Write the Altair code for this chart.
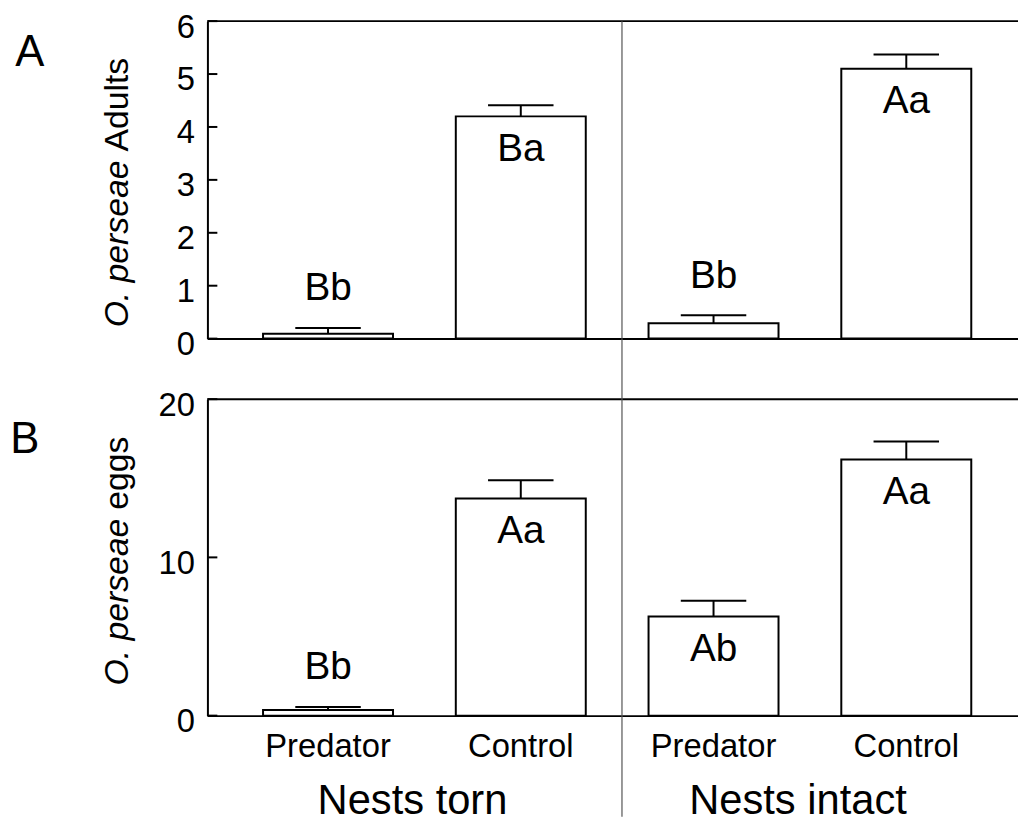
import altair as alt
import pandas as pd

# ---- data ----
groups = ["Nests torn", "Nests torn", "Nests intact", "Nests intact"]
treatments = ["Predator", "Control", "Predator", "Control"]
positions = [1, 2, 3, 4]

adults_mean = [0.09, 4.20, 0.29, 5.10]
adults_se = [0.11, 0.21, 0.15, 0.27]
adults_letters = ["Bb", "Ba", "Bb", "Aa"]
adults_place = ["above", "inside", "above", "inside"]
adults_ticks = [0, 1, 2, 3, 4, 5, 6]

eggs_mean = [0.36, 13.72, 6.26, 16.19]
eggs_se = [0.19, 1.15, 1.00, 1.13]
eggs_letters = ["Bb", "Aa", "Ab", "Aa"]
eggs_place = ["above", "inside", "inside", "inside"]
eggs_ticks = [0, 10, 20]

W = 818
FONT = "Liberation Sans"
X_DOMAIN = [0.4, 4.559]
DIVIDER = 2.525


def panel(mean, se, letters, place, ticks, title_it, title_rest, panel_label,
          h, label_x, label_y, title_y, div_y0, div_y1, bottom):
    df = pd.DataFrame({"pos": positions, "group": groups, "treatment": treatments,
                       "mean": mean, "se": se, "letter": letters, "place": place})
    base = alt.Chart(df).transform_calculate(top="datum.mean + datum.se")
    xs = alt.Scale(domain=X_DOMAIN, nice=False, zero=False)
    ys = alt.Scale(domain=[ticks[0], ticks[-1]], nice=False)

    bars = base.mark_bar(size=131, fill="white", stroke="black", strokeWidth=2).encode(
        x=alt.X("pos:Q", scale=xs, title=None,
                axis=alt.Axis(labels=False, ticks=False, grid=False,
                              domainColor="black", domainWidth=2)),
        y=alt.Y("mean:Q", scale=ys, title=None,
                axis=alt.Axis(values=ticks, ticks=False, grid=False, labelPadding=13,
                              labelFontSize=33, labelBaseline="top", labelOffset=-10,
                              domainColor="black", domainWidth=2)),
    )
    stems = base.mark_rule(color="black", strokeWidth=2).encode(
        x=alt.X("pos:Q", title=None), y=alt.Y("mean:Q", title=None), y2="top:Q")
    caps = base.mark_tick(orient="horizontal", size=66, thickness=2, color="black",
                          opacity=1).encode(
        x=alt.X("pos:Q", title=None), y=alt.Y("top:Q", title=None))
    inside = base.transform_filter("datum.place == 'inside'").mark_text(
        dy=33, baseline="middle", fontSize=39).encode(
        x=alt.X("pos:Q", title=None), y=alt.Y("mean:Q", title=None), text="letter:N")
    above = base.transform_filter("datum.place == 'above'").mark_text(
        dy=-40, baseline="middle", fontSize=39).encode(
        x=alt.X("pos:Q", title=None), y=alt.Y("top:Q", title=None), text="letter:N")

    tick_df = pd.DataFrame({"v": ticks})
    inticks = alt.Chart(tick_df).mark_rule(color="black", strokeWidth=2).encode(
        y=alt.Y("v:Q", title=None), x=alt.value(0), x2=alt.value(10))

    tdf = pd.DataFrame({"it": [title_it], "rest": [title_rest], "panel": [panel_label]})
    t_it = alt.Chart(tdf).mark_text(angle=270, align="right", baseline="alphabetic",
                                    fontSize=34, fontStyle="italic").encode(
        x=alt.value(-80), y=alt.value(title_y), text="it:N")
    t_rest = alt.Chart(tdf).mark_text(angle=270, align="left", baseline="alphabetic",
                                      fontSize=34, dx=9).encode(
        x=alt.value(-80), y=alt.value(title_y), text="rest:N")
    plab = alt.Chart(tdf).mark_text(fontSize=44, align="center", baseline="alphabetic").encode(
        x=alt.value(label_x), y=alt.value(label_y), text="panel:N")
    topline = alt.Chart(tdf).mark_rule(color="black", strokeWidth=2).encode(
        x=alt.value(0), x2=alt.value(W), y=alt.value(0))
    divider = alt.Chart(tdf).mark_rule(color="#555555", strokeWidth=1.2).encode(
        x=alt.datum(DIVIDER), y=alt.value(div_y0), y2=alt.value(div_y1))

    layers = [bars, stems, caps, inside, above, inticks, topline, divider, t_it, t_rest, plab]
    if bottom:
        cats = base.mark_text(fontSize=33, baseline="alphabetic").encode(
            x=alt.X("pos:Q", title=None), y=alt.value(h + 42), text="treatment:N")
        grp = base.transform_aggregate(pos="mean(pos)", groupby=["group"]).mark_text(
            fontSize=42, baseline="alphabetic", dx=-12).encode(
            x=alt.X("pos:Q", title=None), y=alt.value(h + 99), text="group:N")
        layers += [cats, grp]
    return alt.layer(*layers).properties(width=W, height=h)


top = panel(adults_mean, adults_se, adults_letters, adults_place, adults_ticks,
            "O. perseae", "Adults", "A", 320, -179, 45.5, 140.5, 0, 320, False)
bottom = panel(eggs_mean, eggs_se, eggs_letters, eggs_place, eggs_ticks,
               "O. perseae", "eggs", "B", 319, -184, 54.5, 120.5, -61, 421, True)

chart = alt.vconcat(top, bottom, spacing=61, bounds="flush").configure_view(
    stroke=None
).configure_axis(
    labelFont=FONT, labelColor="black"
).configure_text(
    font=FONT, color="black"
).properties(
    padding={"left": 2, "top": 0, "right": -2, "bottom": 0}
)

chart.save("out.html", embed_options={"renderer": "svg", "actions": False})
